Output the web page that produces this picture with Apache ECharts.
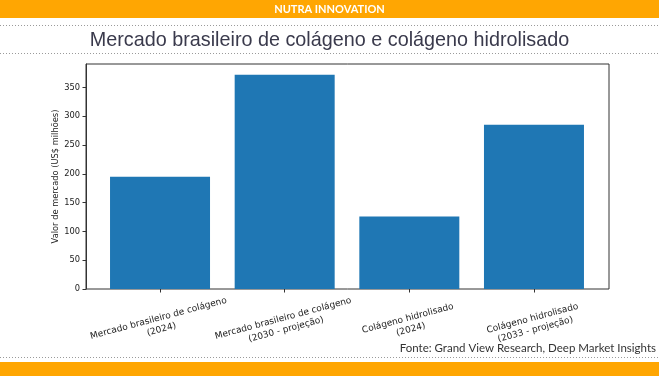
<!DOCTYPE html>
<html>
<head>
<meta charset="utf-8">
<script src="https://cdn.jsdelivr.net/npm/echarts@6/dist/echarts.min.js"></script>
<style>
  html, body { margin: 0; padding: 0; background: #fff; }
  #chart { width: 659px; height: 376px; }
</style>
</head>
<body>
<div id="chart"></div>
<script>
// categorias e valores (US$ milhões)
const categories = [
  "Mercado brasileiro de colágeno\n(2024)",
  "Mercado brasileiro de colágeno\n(2030 - projeção)",
  "Colágeno hidrolisado\n(2024)",
  "Colágeno hidrolisado\n(2033 - projeção)"
]
const values = [195, 372, 126, 285]
const yTicks = [0, 50, 100, 150, 200, 250, 300, 350]
const yMax = 390.6

const W = 659, H = 376
const orange = "#ffa602"

const chart = echarts.init(document.getElementById("chart"))

// linha pontilhada
function dotted(y) {
  return {
    type: "line",
    shape: { x1: 0, y1: y, x2: W, y2: y },
    style: { stroke: "#9a9a9a", lineWidth: 1, lineDash: [1, 2] },
    silent: true
  }
}

const option = {
  animation: false,
  backgroundColor: "#fff",
  graphic: [
    { type: "rect", shape: { x: 0, y: 0, width: W, height: 18 }, style: { fill: orange } },
    {
      type: "text", x: W / 2, y: 9,
      style: {
        text: "NUTRA INNOVATION", fill: "#fff", fontFamily: "Lato", fontWeight: "bold",
        fontSize: 11, align: "center", verticalAlign: "middle"
      }
    },
    dotted(25.5),
    dotted(53.5),
    dotted(357.5),
    { type: "rect", shape: { x: 0, y: 362, width: W, height: 14 }, style: { fill: orange } },
    {
      type: "text", x: 656, y: 348,
      style: {
        text: "Fonte: Grand View Research, Deep Market Insights", fill: "#333",
        fontFamily: "Lato", fontSize: 11.5, align: "right", verticalAlign: "middle"
      }
    }
  ],
  title: {
    text: "Mercado brasileiro de colágeno e colágeno hidrolisado",
    left: "center",
    top: 26,
    textStyle: { fontFamily: "Liberation Sans", fontSize: 19.8, fontWeight: "normal", color: "#3a3a4c" }
  },
  // grid 0: moldura + eixo y ; grid 1: barras (categorias)
  grid: [
    { left: 86, right: 50, top: 64, bottom: 87, show: true, borderColor: "#333", borderWidth: 1 },
    { left: 97.7, right: 62.7, top: 64, bottom: 87 }
  ],
  xAxis: [
    { gridIndex: 0, type: "value", min: 0, max: 1, show: false },
    {
      gridIndex: 1,
      type: "category",
      data: categories,
      axisLine: { show: false },
      axisTick: { show: true, alignWithLabel: true, length: 3.5, lineStyle: { color: "#333" } },
      axisLabel: {
        interval: 0,
        rotate: 15,
        align: "center",
        verticalAlign: "middle",
        margin: 35,
        fontFamily: "DejaVu Sans",
        fontSize: 9,
        lineHeight: 11.5,
        color: "#222"
      }
    }
  ],
  yAxis: [
    {
      gridIndex: 0,
      type: "value",
      min: 0,
      max: yMax,
      name: "Valor de mercado (US$ milhões)",
      nameLocation: "middle",
      nameRotate: 90,
      nameGap: 26,
      nameMoveOverlap: false,
      nameTextStyle: { fontFamily: "DejaVu Sans", fontSize: 8.3, color: "#222" },
      splitLine: { show: false },
      axisLine: { show: true, onZero: false, lineStyle: { color: "#333" } },
      axisTick: { show: true, length: 3.5, customValues: yTicks, lineStyle: { color: "#333" } },
      axisLabel: {
        customValues: yTicks,
        margin: 6,
        fontFamily: "DejaVu Sans",
        fontSize: 8.3,
        color: "#222"
      }
    },
    { gridIndex: 1, type: "value", min: 0, max: yMax, show: false }
  ],
  series: [
    {
      type: "bar",
      xAxisIndex: 1,
      yAxisIndex: 1,
      data: values,
      barWidth: 100,
      itemStyle: { color: "#1f77b4" }
    }
  ]
}

chart.setOption(option)
</script>
</body>
</html>
